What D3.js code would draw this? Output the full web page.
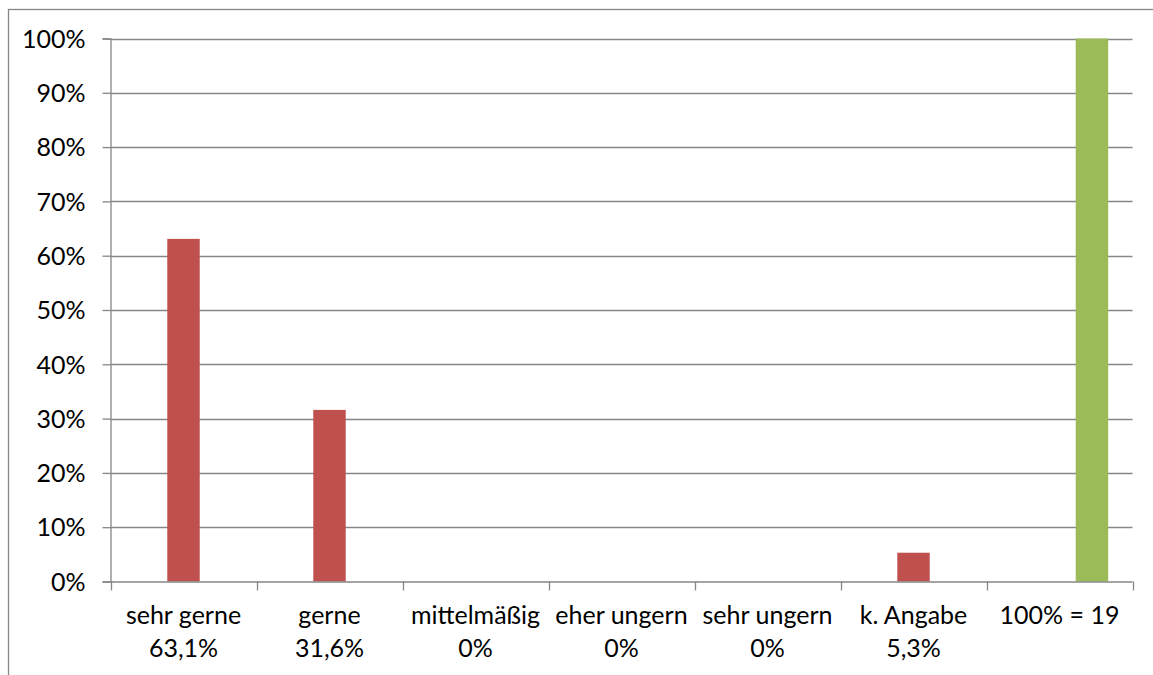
<!DOCTYPE html>
<html><head><meta charset="utf-8">
<script src="https://cdn.jsdelivr.net/npm/d3@7"></script>
<style>
html,body{margin:0;padding:0;background:#fff;}
svg{display:block;}
text{font-family:Lato,"Open Sans",sans-serif;fill:#000;}
</style></head>
<body>
<svg id="chart" width="1153" height="675"></svg>
<script>
// ---- data ----
const categories = ["sehr gerne","gerne","mittelmäßig","eher ungern","sehr ungern","k. Angabe","100% = 19"];
const labelLine1 = ["sehr gerne","gerne","mittelmäßig","eher ungern","sehr ungern","k. Angabe","100% = 19"];
const labelLine2 = ["63,1%","31,6%","0%","0%","0%","5,3%",""];
const seriesSlots = ["leer","Anteil","Gesamt"];
const anteilValues = [63.1, 31.6, 0, 0, 0, 5.3, null];
const gesamtValues = [null, null, null, null, null, null, 100];
const yTicks = [0,10,20,30,40,50,60,70,80,90,100];

const svg = d3.select("#chart");
const W = 1153, H = 675;
const plot = {left:110.5, right:1132.5, top:38.5, bottom:581.5};
const grey = "#868686";
const red = "#C0504D", green = "#9BBB59";
const fs = 25;

// outer border
svg.append("rect").attr("x",8.5).attr("y",9.5).attr("width",1300).attr("height",800)
  .attr("fill","none").attr("stroke",grey).attr("stroke-width",1.3);

const x = d3.scaleBand().domain(categories).range([plot.left, plot.right]).paddingInner(0).paddingOuter(0);
const xs = d3.scaleBand().domain(seriesSlots).range([0, x.bandwidth()]).paddingInner(0).paddingOuter(0.75);
const y = d3.scaleLinear().domain([0,100]).range([plot.bottom, plot.top]);

// gridlines
svg.append("g").selectAll("line").data(yTicks.filter(d=>d>0)).join("line")
  .attr("x1",plot.left).attr("x2",plot.right)
  .attr("y1",d=>Math.round(y(d))+0.5).attr("y2",d=>Math.round(y(d))+0.5)
  .attr("stroke",grey).attr("stroke-width",1.3);

// y axis
const yAxis = d3.axisLeft(y).tickValues(yTicks).tickSize(8).tickPadding(17).tickFormat(d=>d+"%");
const gy = svg.append("g").attr("transform",`translate(${plot.left},0)`).call(yAxis);
gy.select(".domain").attr("stroke",grey).attr("stroke-width",1.3);
gy.selectAll(".tick line").attr("stroke",grey).attr("stroke-width",1.3);
gy.selectAll(".tick text").attr("font-size",fs).attr("font-family","Lato").attr("fill","#000").attr("dy","0.35em");

// bars
const barData = [];
categories.forEach((c,i)=>{
  if (anteilValues[i] != null) barData.push({cat:c, slot:"Anteil", v:anteilValues[i], color:red});
  if (gesamtValues[i] != null) barData.push({cat:c, slot:"Gesamt", v:gesamtValues[i], color:green});
});
svg.append("g").selectAll("rect").data(barData.filter(d=>d.v>0)).join("rect")
  .attr("x",d=>x(d.cat)+xs(d.slot))
  .attr("width",xs.bandwidth())
  .attr("y",d=>y(d.v))
  .attr("height",d=>y(0)-y(d.v))
  .attr("fill",d=>d.color);

// x axis
svg.append("line").attr("x1",plot.left).attr("x2",plot.right)
  .attr("y1",plot.bottom+0.5).attr("y2",plot.bottom+0.5).attr("stroke",grey).attr("stroke-width",1.3);
const bounds = categories.map(c=>x(c)).concat([x(categories[categories.length-1])+x.bandwidth()]);
svg.append("g").selectAll("line").data(bounds).join("line")
  .attr("x1",d=>Math.round(d)+0.5).attr("x2",d=>Math.round(d)+0.5)
  .attr("y1",plot.bottom).attr("y2",plot.bottom+9)
  .attr("stroke",grey).attr("stroke-width",1.3);

const lab = svg.append("g").selectAll("text").data(categories).join("text")
  .attr("x",d=>x(d)+x.bandwidth()/2)
  .attr("text-anchor","middle")
  .attr("font-size",fs);
lab.append("tspan").attr("x",d=>x(d)+x.bandwidth()/2).attr("y",624).text((d,i)=>labelLine1[i]);
lab.append("tspan").attr("x",d=>x(d)+x.bandwidth()/2).attr("y",657).text((d,i)=>labelLine2[i]);
</script>
</body></html>
